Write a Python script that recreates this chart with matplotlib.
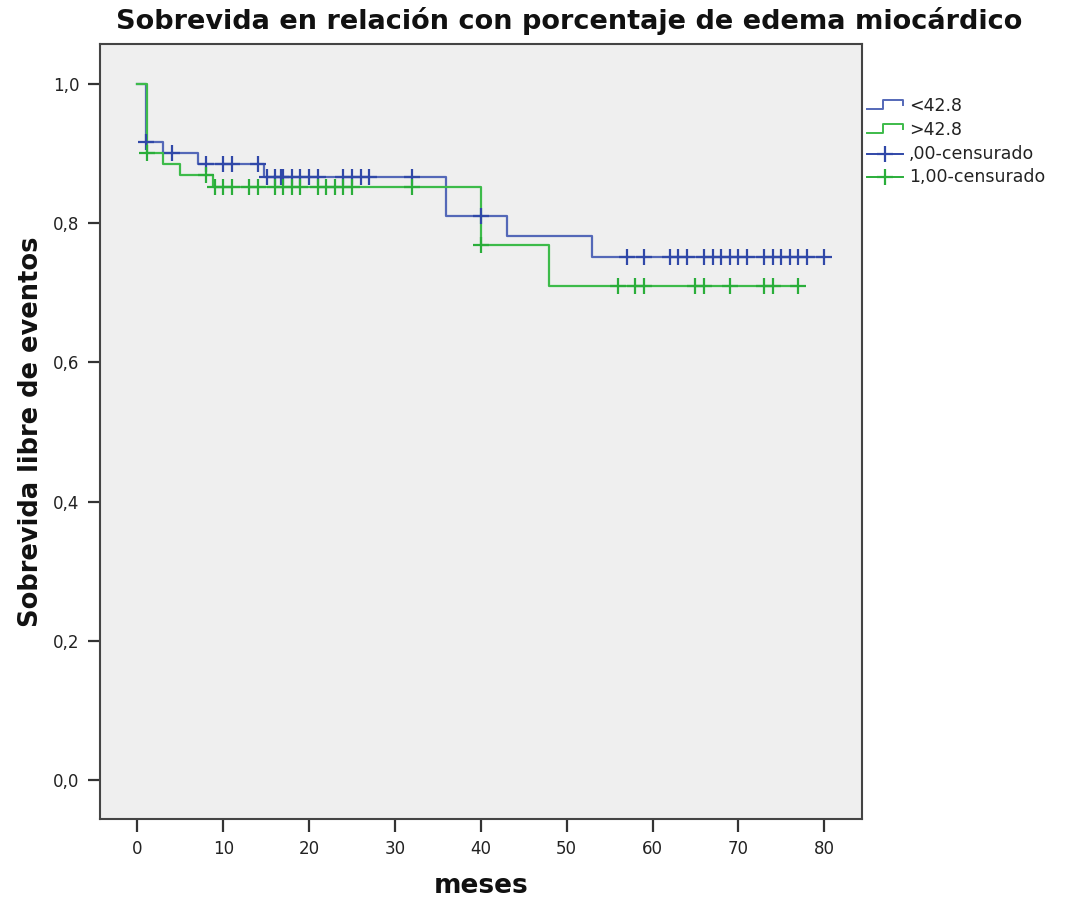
import numpy as np
import matplotlib
matplotlib.use("Agg")
import matplotlib.pyplot as plt
from matplotlib.ticker import FuncFormatter

# ---- data ----
title = "Sobrevida en relación con porcentaje de edema miocárdico"
xlabel = "meses"
ylabel = "Sobrevida libre de eventos"
legend_labels = ["<42.8", ">42.8", ",00-censurado", "1,00-censurado"]

# group "<42.8" (blue): step times and survival after each step
blue_times = [0, 1, 3, 7.1, 14.8, 36, 43, 53]
blue_surv = [1.0, 0.917, 0.901, 0.885, 0.867, 0.811, 0.781, 0.751]
blue_end = 80
blue_censored = [1, 4, 8, 10, 11, 14, 15.1, 16, 16.7, 17, 18, 19, 20, 21, 24, 25, 26, 27,
                 32, 40, 57, 59, 62, 63, 64, 66, 67, 68, 69, 70, 71, 73, 74, 75,
                 76, 77, 78, 80]

# group ">42.8" (green)
green_times = [0, 1.1, 3, 5, 8.85, 40, 48]
green_surv = [1.0, 0.901, 0.885, 0.869, 0.852, 0.768, 0.710]
green_end = 77
green_censored = [1.1, 8, 9.1, 10, 11, 13, 14, 16, 17, 18, 19, 21, 22, 23, 24, 25, 32,
                  40.05, 56, 58, 59, 65, 66, 69, 73, 74, 77]

xticks = [0, 10, 20, 30, 40, 50, 60, 70, 80]
yticks = [0.0, 0.2, 0.4, 0.6, 0.8, 1.0]

blue_line = "#5468b8"
blue_mark = "#3048a8"
green_line = "#3dbb4a"
green_mark = "#2aae3a"

W, H = 1069, 901
fig = plt.figure(figsize=(W / 100, H / 100), dpi=100)
fig.patch.set_facecolor("white")

L, R, T, B = 100, 862, 44, 819
ax = fig.add_axes([L / W, (H - B) / H, (R - L) / W, (B - T) / H])
ax.set_facecolor("#efefef")


def step_value(times, surv, t):
    idx = np.searchsorted(np.asarray(times), t, side="right") - 1
    return surv[max(idx, 0)]


def draw_group(times, surv, end, cens, lc, mc):
    xs = list(times) + [end]
    ys = list(surv) + [surv[-1]]
    ax.step(xs, ys, where="post", color=lc, lw=1.6, zorder=3)
    cy = [step_value(times, surv, t) for t in cens]
    ax.plot(cens, cy, ls="none", marker="+", ms=11, mew=1.6, color=mc, zorder=4)


draw_group(blue_times, blue_surv, blue_end, blue_censored, blue_line, blue_mark)
draw_group(green_times, green_surv, green_end, green_censored, green_line, green_mark)

ax.set_xlim(-4.35, 84.4)
ax.set_ylim(-0.056, 1.0575)
ax.set_xticks(xticks)
ax.set_yticks(yticks)
ax.yaxis.set_major_formatter(FuncFormatter(lambda v, p: f"{v:.1f}".replace(".", ",")))
ax.tick_params(axis="both", direction="out", length=9, width=1.6, color="#333333",
               labelsize=12, labelcolor="#222222", pad=6)
for s in ax.spines.values():
    s.set_color("#444444")
    s.set_linewidth(1.5)

fig.text(569 / W, 1 - 21 / H, title, ha="center", va="center", fontsize=19.5,
         fontweight="bold", color="#111111")
fig.text(481 / W, 1 - 886 / H, xlabel, ha="center", va="center", fontsize=19,
         fontweight="bold", color="#111111")
fig.text(31 / W, 1 - 432 / H, ylabel, ha="center", va="center", rotation=90,
         fontsize=18.5, fontweight="bold", color="#111111")

# ---- legend (manual, pixel-based overlay) ----
lax = fig.add_axes([0, 0, 1, 1], facecolor="none")
lax.set_xlim(0, W)
lax.set_ylim(H, 0)
lax.axis("off")
rows = [106, 130, 154, 177]
for i, c in enumerate([blue_line, green_line]):
    yc = rows[i]
    lax.plot([867, 883, 883, 903, 903], [yc + 3, yc + 3, yc - 6, yc - 6, yc - 1.5],
             color=c, lw=1.4)
for i, c in enumerate([blue_mark, green_mark]):
    yc = rows[i + 2]
    lax.plot([867, 903], [yc, yc], color=c, lw=1.4)
    lax.plot([885], [yc], marker="+", ms=11, mew=1.6, color=c)
for lab, yc in zip(legend_labels, rows):
    lax.text(909, yc, lab, ha="left", va="center", fontsize=12.5, color="#222222")

fig.savefig("out.png", dpi=100)
